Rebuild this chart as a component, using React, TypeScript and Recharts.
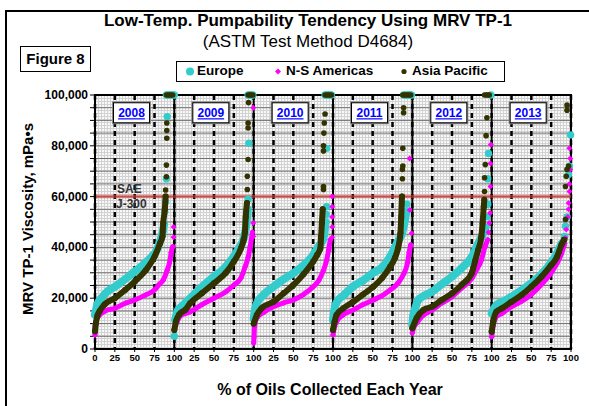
import React from "react";
import {
  ComposedChart,
  Scatter,
  XAxis,
  YAxis,
  CartesianGrid,
  ReferenceLine,
  ReferenceDot,
  ReferenceArea,
} from "recharts";

const FONT = "'Liberation Sans', Arial, sans-serif";

const years = ["2008", "2009", "2010", "2011", "2012", "2013"];

const xTicks = [0, 25, 50, 75, 100, 125, 150, 175, 200, 225, 250, 275, 300, 325, 350, 375, 400, 425, 450, 475, 500, 525, 550, 575, 600];
const xTickLabels = ["0", "25", "50", "75", "100", "25", "50", "75", "100", "25", "50", "75", "100", "25", "50", "75", "100", "25", "50", "75", "100", "25", "50", "75", "100"];

const yTicks = [0, 5000, 10000, 15000, 20000, 25000, 30000, 35000, 40000, 45000, 50000, 55000, 60000, 65000, 70000, 75000, 80000, 85000, 90000, 95000, 100000];
const yLabelValues = [0, 20000, 40000, 60000, 80000, 100000];
const yLabelTexts = ["0", "20,000", "40,000", "60,000", "80,000", "100,000"];

const panelEdges = [100, 200, 300, 400, 500];
const saeLimit = 60000;

// [% of oils collected, MRV TP-1 viscosity mPa·s], one list per year 2008..2013
const europeBody = [
  [[0, 13500], [3, 17500], [8, 20000], [15, 22500], [25, 24500], [38, 27500], [50, 30500], [62, 33500], [72, 36500], [78, 39000], [82, 42500], [85, 45500], [87, 49000]],
  [[1, 11500], [4, 15000], [10, 17000], [20, 20000], [35, 24500], [50, 28500], [62, 31500], [74, 36000], [82, 40000], [88, 44000], [91, 49600], [92.5, 55000]],
  [[0, 12000], [2, 16000], [5, 18500], [13, 21500], [25, 24500], [38, 27500], [50, 29800], [63, 33000], [75, 37000], [82, 40500], [88, 43500], [90, 48000]],
  [[0, 11500], [2, 16000], [5, 18600], [13, 21000], [25, 24500], [38, 27000], [50, 29800], [63, 32500], [72, 36300], [78, 40000], [82, 42500], [87, 45500], [90, 49600], [92.5, 54000]],
  [[0, 9400], [1, 13000], [3, 15400], [7.5, 19300], [15, 21000], [25, 22600], [37, 25500], [50, 28500], [62, 31800], [75, 36300], [83, 41600], [88, 44500], [91, 47000]],
  [[0, 14000], [6, 17300], [13, 18500], [25, 20600], [38, 23200], [50, 25900], [63, 29500], [75, 34000], [82, 37500], [88, 41500]],
];
const europeTail = [
  [[88, 54000], [89, 58000], [90, 67000], [91, 91500], [90, 100000], [92, 100000], [94, 100000], [96, 100000], [98, 100000], [100, 100000]],
  [[0, 5000], [93, 59000], [94, 81000], [93, 100000], [95, 100000], [97, 100000], [99, 100000]],
  [[91, 50000], [91.5, 53000], [92, 56000], [92, 79000], [90, 100000], [92, 100000], [94, 100000], [96, 100000], [98, 100000]],
  [[93, 57000], [89, 100000], [91, 100000], [93, 100000], [95, 100000], [97, 100000], [99, 100000]],
  [[93, 48000], [94, 52000], [95, 57000], [95, 67000], [96, 77000], [99, 100000]],
  [[92, 44300], [93, 48300], [95, 52000], [97, 68700], [98, 72000], [99.5, 84300]],
];

const americasBody = [
  [[0, 5500], [0.5, 10000], [4, 12700], [13, 15000], [25, 16000], [38, 18000], [50, 19300], [64, 21300], [75, 23200], [81, 25500], [86, 27200], [91, 31000], [94.6, 35000], [96, 38000], [98, 40300]],
  [[0.5, 8300], [3, 10500], [7, 12800], [14, 14000], [20, 14700], [35, 17500], [50, 20000], [65, 22500], [75, 25200], [84, 28000], [89.3, 32400], [93, 36000], [95.6, 40300], [98.5, 46000]],
  [[0, 2400], [0.5, 4800], [1, 8800], [4, 12200], [13, 14500], [25, 16700], [38, 18200], [50, 19300], [63, 21500], [75, 24500], [82, 27000], [88, 31000], [92, 35000], [94.5, 39000], [96.6, 43000]],
  [[0, 5500], [2, 8800], [4.5, 10800], [13, 13500], [25.6, 15400], [38, 17500], [50.8, 19300], [62, 21000], [72, 23200], [82, 26000], [89, 29500], [94, 34000], [96, 38000], [98, 41000]],
  [[0, 6300], [2, 8800], [5.5, 10200], [12, 12800], [25, 15400], [37, 18000], [50, 20600], [62, 24000], [75, 27800], [81, 31200], [87, 35000], [91.6, 40300], [95, 43000]],
  [[0, 4800], [2, 9400], [6, 12700], [13, 14000], [25, 16700], [38, 18800], [50, 21500], [63, 25500], [75, 30000], [82, 33500], [88, 37500], [92, 41500]],
];
const americasTail = [
  [[99, 44000], [99, 48000]],
  [[99.5, 44300], [99.5, 49600], [99.6, 95000]],
  [[99, 44000], [99, 48000], [99, 52000], [99, 56000], [99, 60000]],
  [[99, 45600], [96.7, 54700], [96.5, 75000]],
  [[96, 46000], [97, 49600], [98, 53500], [98.5, 64000], [98.5, 73000], [99, 80500]],
  [[93, 43700], [94, 47000], [96, 52000], [97, 55000], [97, 57500], [98, 62000], [98, 65000], [99, 70700], [99, 75000], [98, 79000]],
];

const asiaBody = [
  [[0, 7000], [1, 10000], [3, 13000], [6, 15000], [12, 17500], [25, 20000], [38, 23200], [50, 26500], [64, 31000], [75, 36300], [82, 41600], [85, 44300], [86, 49600], [88, 55000], [89, 60000]],
  [[0, 7500], [2, 10800], [6, 13500], [14, 15500], [20, 18000], [35, 22000], [50, 25900], [65, 30000], [75, 34400], [84, 39700], [87.3, 43000], [89, 46000], [90, 52000], [91.5, 57500]],
  [[0, 10000], [4, 13400], [10, 16000], [25, 18600], [38, 22000], [50, 25200], [63, 29500], [75, 34400], [80, 37000], [84, 39600], [85, 44300], [86, 49600], [87, 55000]],
  [[0, 7500], [2, 10800], [4.5, 13400], [13, 16000], [25.6, 18600], [38, 21500], [50.8, 24500], [62, 28000], [72, 32400], [78, 35800], [82, 39700], [85, 45600], [86, 52000], [87, 60000]],
  [[0, 8200], [5.5, 12200], [14, 15400], [25, 16700], [37, 19300], [50, 21900], [62, 25200], [75, 30000], [79, 34500], [83, 39000], [87, 44300], [88.6, 49600], [90, 56000], [90.7, 58800]],
  [[0, 6800], [2, 10800], [6, 14700], [13, 16000], [25, 18600], [38, 21300], [50, 24500], [63, 28500], [75, 33000], [82, 36000], [88, 41000], [91, 43000]],
];
const asiaTail = [
  [[89, 62600], [90, 67800], [90, 72400], [90.5, 83000], [90.5, 86000], [90.5, 89000], [90, 100000], [92, 100000], [94, 100000], [96, 100000], [98, 100000]],
  [[92, 62800], [92, 68000], [93, 74600], [93, 87000], [93, 89000], [93.5, 97000], [93, 100000], [95, 100000], [97, 100000], [99, 100000]],
  [[88, 62800], [88, 64000], [88, 78000], [88, 80000], [88.5, 85000], [89, 89000], [90, 92500], [90, 100000], [92, 100000], [94, 100000], [96, 100000], [98, 100000]],
  [[87.5, 67000], [87.5, 70700], [88, 72000], [88, 79000], [89, 93000], [89, 95000], [88, 100000], [90, 100000], [92, 100000], [94, 100000], [96, 100000], [98, 100000]],
  [[91, 62000], [91, 67400], [92, 72600], [93, 84000], [94, 91000], [91, 100000], [93, 100000], [95, 100000], [97, 100000]],
  [[92, 43000], [93, 51000], [93, 64000], [94, 68000], [95, 70700], [97, 72000], [95, 94000], [95, 96000]],
];

const EUROPE = "#33CCCC";
const AMERICAS = "#FF00FF";
const ASIA = "#333300";

const yearTagPct = 46;
const yearTagValue = 93000;

const toPoints = (pts: number[][], i: number) => pts.map(([p, v]) => ({ x: i * 100 + p, y: v }));
const allPoints = (sets: number[][][]) => sets.flatMap((pts, i) => toPoints(pts, i));

const dot = (color: string, r: number) => (props: any) =>
  props.cx == null ? <g /> : <circle cx={props.cx} cy={props.cy} r={r} fill={color} />;

const diamond = (color: string, s: number) => (props: any) => {
  if (props.cx == null) return <g />;
  const { cx, cy } = props;
  return <polygon points={`${cx},${cy - s} ${cx + s},${cy} ${cx},${cy + s} ${cx - s},${cy}`} fill={color} />;
};

const YTick = ({ x, y, payload }: any) => {
  const idx = yLabelValues.indexOf(payload.value);
  if (idx < 0) return <g />;
  return (
    <text x={x} y={y} dy={4} textAnchor="end" fontSize={12} fontWeight="bold" fill="#000" fontFamily={FONT}>
      {yLabelTexts[idx]}
    </text>
  );
};

const YearTag = ({ cx, cy, text }: any) => (
  <g>
    <rect x={cx - 18} y={cy - 10} width={36} height={20} fill="#fff" stroke="#8a8a8a" strokeWidth={3} />
    <rect x={cx - 18} y={cy - 10} width={36} height={20} fill="#fff" stroke="#000" strokeWidth={1} />
    <text x={cx} y={cy + 4.5} textAnchor="middle" fontSize={12} fontWeight="bold" fill="#0000FF" textDecoration="underline" fontFamily={FONT}>
      {text}
    </text>
  </g>
);

const SaeLabel = (props: any) => {
  const vb = props.viewBox || { x: 95, y: 197 };
  return (
    <g fontFamily={FONT} fontSize={12} fontWeight="bold" fill="#333">
      <text x={vb.x + 22} y={vb.y - 4}>SAE</text>
      <text x={vb.x + 21} y={vb.y + 11}>J-300</text>
    </g>
  );
};

export default function App() {
  return (
    <div style={{ position: "absolute", left: 0, top: 0, width: 589, height: 406, overflow: "hidden", background: "#fff", fontFamily: FONT }}>
      <svg width={0} height={0} style={{ position: "absolute" }}>
        <defs>
          <pattern id="stipple" width={3} height={3} patternUnits="userSpaceOnUse">
            <rect width={3} height={3} fill="#d2d2d2" />
            <rect width={2} height={2} fill="#f8f8f8" />
          </pattern>
        </defs>
      </svg>

      <div style={{ position: "absolute", left: 5, top: 10, width: 610, height: 420, border: "2px solid #000", boxSizing: "border-box" }} />

      <div style={{ position: "absolute", left: 0, top: 0 }}>
        <ComposedChart width={589} height={406} margin={{ top: 95, right: 18, bottom: 27, left: 0 }}>
          <CartesianGrid horizontal vertical={false} stroke="#707070" strokeWidth={1} fill="url(#stipple)" fillOpacity={1} />
          <CartesianGrid horizontal={false} vertical stroke="#000" strokeWidth={2.5} strokeDasharray="5 4" />
          <XAxis
            type="number"
            dataKey="x"
            domain={[0, 600]}
            ticks={xTicks}
            interval={0}
            tickFormatter={(v: number, i: number) => xTickLabels[i] ?? String(v)}
            tick={{ fontSize: 9.5, fontWeight: "bold", fill: "#000", fontFamily: FONT }}
            tickSize={3}
            height={30}
            axisLine={{ stroke: "#000", strokeWidth: 2 }}
            tickLine={{ stroke: "#000" }}
          />
          <YAxis
            type="number"
            dataKey="y"
            domain={[0, 100000]}
            ticks={yTicks}
            interval={0}
            width={95}
            tick={<YTick />}
            tickSize={5}
            axisLine={{ stroke: "#000", strokeWidth: 2 }}
            tickLine={{ stroke: "#000" }}
          />
          {panelEdges.map((e) => (
            <ReferenceLine key={e} x={e} stroke="#000" strokeWidth={2} />
          ))}
          <ReferenceLine y={saeLimit} stroke="#e03c3c" strokeOpacity={0.6} strokeWidth={3.5} label={{ content: (p: any) => <SaeLabel {...p} /> }} />
          <ReferenceArea x1={0} x2={600} y1={0} y2={100000} fill="none" stroke="#000" strokeWidth={2} />

          {europeBody.map((pts, i) => (
            <Scatter key={`eb${i}`} data={toPoints(pts, i)} fill={EUROPE} line={{ stroke: EUROPE, strokeWidth: 8, strokeLinecap: "round", strokeLinejoin: "round" }} lineJointType="monotoneX" shape={dot(EUROPE, 3.5)} isAnimationActive={false} />
          ))}
          <Scatter data={allPoints(europeTail)} fill={EUROPE} shape={dot(EUROPE, 3.7)} isAnimationActive={false} />

          {americasBody.map((pts, i) => (
            <Scatter key={`ab${i}`} data={toPoints(pts, i)} fill={AMERICAS} line={{ stroke: AMERICAS, strokeWidth: 5, strokeLinecap: "round", strokeLinejoin: "round" }} lineJointType="monotoneX" shape={diamond(AMERICAS, 3)} isAnimationActive={false} />
          ))}
          <Scatter data={allPoints(americasTail)} fill={AMERICAS} shape={diamond(AMERICAS, 3)} isAnimationActive={false} />

          {asiaBody.map((pts, i) => (
            <Scatter key={`sb${i}`} data={toPoints(pts, i)} fill={ASIA} line={{ stroke: ASIA, strokeWidth: 6, strokeLinecap: "round", strokeLinejoin: "round" }} lineJointType="monotoneX" shape={dot(ASIA, 3)} isAnimationActive={false} />
          ))}
          <Scatter data={allPoints(asiaTail)} fill={ASIA} shape={dot(ASIA, 2.8)} isAnimationActive={false} />

          {years.map((yr, i) => (
            <ReferenceDot key={yr} x={i * 100 + yearTagPct} y={yearTagValue} r={0} shape={(p: any) => <YearTag cx={p.cx} cy={p.cy} text={yr} />} />
          ))}
        </ComposedChart>
      </div>

      <div style={{ position: "absolute", left: 0, top: 12, width: 616, textAlign: "center", fontSize: 17, fontWeight: "bold", lineHeight: "18px" }}>
        Low-Temp. Pumpability Tendency Using MRV TP-1
      </div>
      <div style={{ position: "absolute", left: 0, top: 33, width: 616, textAlign: "center", fontSize: 17, lineHeight: "18px" }}>
        (ASTM Test Method D4684)
      </div>
      <div style={{ position: "absolute", left: 20, top: 46, width: 71, height: 26, border: "1.5px solid #000", boxSizing: "border-box", background: "#fff", textAlign: "center", fontSize: 15, fontWeight: "bold", lineHeight: "23px" }}>
        Figure 8
      </div>

      <div style={{ position: "absolute", left: 176, top: 61, width: 329, height: 21, border: "1px solid #000", boxSizing: "border-box", background: "#fff", fontSize: 13.5, fontWeight: "bold" }}>
        <svg width={327} height={19} style={{ position: "absolute", left: 0, top: 0 }}>
          <circle cx={13} cy={9.5} r={4} fill={EUROPE} />
          <polygon points="101,6.5 104,9.5 101,12.5 98,9.5" fill={AMERICAS} />
          <circle cx={227} cy={9.5} r={2.6} fill={ASIA} />
        </svg>
        <span style={{ position: "absolute", left: 20, top: 1, lineHeight: "16px" }}>Europe</span>
        <span style={{ position: "absolute", left: 109, top: 1, lineHeight: "16px" }}>N-S Americas</span>
        <span style={{ position: "absolute", left: 235, top: 1, lineHeight: "16px" }}>Asia Pacific</span>
      </div>

      <div style={{ position: "absolute", left: 28 - 130, top: 219 - 10, width: 260, height: 20, lineHeight: "20px", textAlign: "center", transform: "rotate(-90deg)", fontSize: 15, fontWeight: "bold" }}>
        MRV TP-1 Viscosity, mPa•s
      </div>
      <div style={{ position: "absolute", left: 0, top: 381, width: 660, textAlign: "center", fontSize: 16, fontWeight: "bold", lineHeight: "18px" }}>
        % of Oils Collected Each Year
      </div>
    </div>
  );
}
